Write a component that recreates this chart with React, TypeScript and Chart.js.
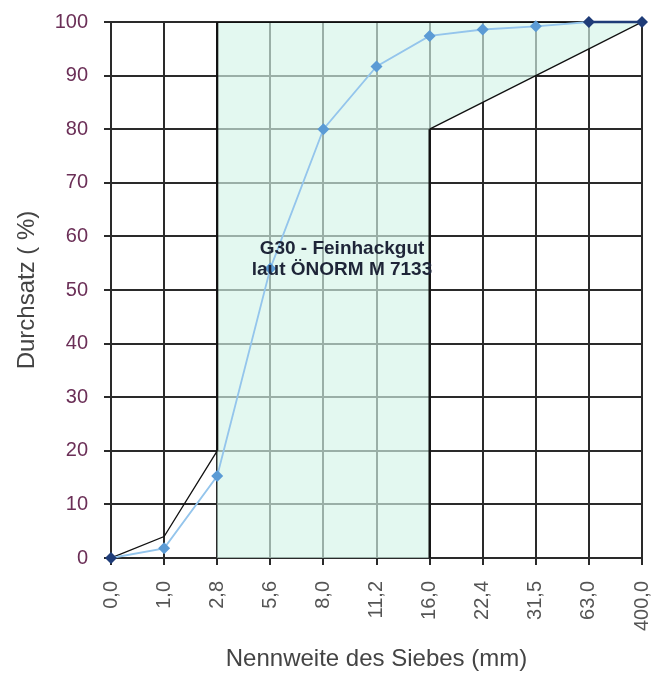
import React, { useEffect, useRef } from "react";
import { Chart, registerables } from "chart.js";

Chart.register(...registerables);

// ---- data ----
const sieveLabels = ["0,0", "1,0", "2,8", "5,6", "8,0", "11,2", "16,0", "22,4", "31,5", "63,0", "400,0"];
const passing = [0, 1.8, 15.3, 54, 80, 91.7, 97.4, 98.6, 99.2, 100, 100];
const darkPointIdx = [0, 9, 10];
// envelope (class limits) given as sieve index / percentage
const upperLimitIdx = [0, 1, 2, 2, 10];
const upperLimit = [0, 4, 20, 100, 100];
const lowerLimitIdx = [6, 6, 7, 8, 9, 10];
const lowerLimit = [0, 80, 85, 90, 95, 100];
const classTitle = ["G30 - Feinhackgut", "laut ÖNORM M 7133"];
const classTitleAnchor = { x: 4.35, y: 55.7 };

const FONT = '"Liberation Sans", Arial, sans-serif';
const GRID = "#2a2a2a";
const LIGHT_BLUE = "#94c5ec";
const MARKER_BLUE = "#5b9bd5";
const DARK_BLUE = "#1f3c78";

const classLabelPlugin = {
  id: "classLabel",
  afterDatasetsDraw(chart: any) {
    const { ctx, scales } = chart;
    const cx = scales.x.getPixelForValue(classTitleAnchor.x);
    const cy = scales.y.getPixelForValue(classTitleAnchor.y);
    ctx.save();
    ctx.font = `bold 19px ${FONT}`;
    ctx.fillStyle = "#1e2538";
    ctx.textAlign = "center";
    ctx.textBaseline = "middle";
    const n = classTitle.length;
    classTitle.forEach((t, i) => {
      ctx.fillText(t, cx, cy + (i - (n - 1) / 2) * 21);
    });
    ctx.restore();
  },
};

export default function App() {
  const ref = useRef<HTMLCanvasElement | null>(null);

  useEffect(() => {
    if (!ref.current) return;

    const upperPts = upperLimitIdx.map((x, i) => ({ x, y: upperLimit[i] }));
    const lowerPts = lowerLimitIdx.map((x, i) => ({ x, y: lowerLimit[i] }));
    // shaded region: from the first vertical of the upper limit to the lower limit
    const startIdx = upperLimitIdx[2];
    const polygon = [
      { x: startIdx, y: 0 },
      ...upperPts.slice(2),
      ...lowerPts.slice().reverse(),
    ];
    const passPts = passing.map((y, x) => ({ x, y }));

    const segWidth = (ctx: any) =>
      Math.abs(ctx.p0.x - ctx.p1.x) < 0.5 || Math.abs(ctx.p0.y - ctx.p1.y) < 0.5 ? 2.2 : 1.3;
    const isDarkSeg = (ctx: any) =>
      darkPointIdx.includes(ctx.p0DataIndex) && darkPointIdx.includes(ctx.p1DataIndex);

    const chart = new Chart(ref.current, {
      type: "line",
      data: {
        datasets: [
          {
            label: "Bereich",
            data: polygon,
            fill: "shape",
            backgroundColor: "rgba(212, 245, 232, 0.66)",
            borderWidth: 0,
            pointRadius: 0,
            order: 10,
          },
          {
            label: "Obergrenze",
            data: upperPts,
            borderColor: "#111",
            borderWidth: 1.3,
            segment: { borderWidth: segWidth },
            pointRadius: 0,
            fill: false,
            order: 5,
          },
          {
            label: "Untergrenze",
            data: lowerPts,
            borderColor: "#111",
            borderWidth: 1.3,
            segment: { borderWidth: segWidth },
            pointRadius: 0,
            fill: false,
            order: 5,
          },
          {
            label: "Durchsatz",
            data: passPts,
            clip: false,
            borderColor: LIGHT_BLUE,
            borderWidth: 1.8,
            segment: {
              borderColor: (ctx: any) => (isDarkSeg(ctx) ? DARK_BLUE : LIGHT_BLUE),
              borderWidth: (ctx: any) => (isDarkSeg(ctx) ? 2.4 : 1.8),
            },
            pointStyle: "rectRot",
            pointRadius: 6,
            pointBackgroundColor: passing.map((_, i) => (darkPointIdx.includes(i) ? DARK_BLUE : MARKER_BLUE)),
            pointBorderColor: passing.map((_, i) => (darkPointIdx.includes(i) ? DARK_BLUE : MARKER_BLUE)),
            pointBorderWidth: 0,
            fill: false,
            order: 1,
          },
        ],
      },
      options: {
        responsive: false,
        animation: false,
        layout: { padding: { left: 0, right: 10, top: 22, bottom: 0 } },
        plugins: { legend: { display: false }, tooltip: { enabled: false } },
        scales: {
          x: {
            type: "linear",
            min: 0,
            max: sieveLabels.length - 1,
            afterFit: (s: any) => {
              s.height = 116;
              s.paddingLeft = 0;
              s.paddingRight = 0;
            },
            ticks: {
              stepSize: 1,
              autoSkip: false,
              maxRotation: 90,
              minRotation: 90,
              padding: 16,
              color: "#555",
              font: { family: FONT, size: 20 },
              callback: (v: any) => sieveLabels[v] ?? "",
            },
            grid: { color: GRID, lineWidth: 2, tickLength: 7 },
            border: { color: GRID, width: 2 },
            title: {
              display: true,
              text: "Nennweite des Siebes (mm)",
              color: "#444",
              font: { family: FONT, size: 24 },
              padding: { top: 0, bottom: 0 },
            },
          },
          y: {
            min: 0,
            max: 100,
            afterFit: (s: any) => {
              s.width = 111;
              s.paddingTop = 0;
              s.paddingBottom = 0;
            },
            ticks: {
              stepSize: 10,
              padding: 16,
              color: "#6b2f57",
              font: { family: FONT, size: 20 },
            },
            grid: { color: GRID, lineWidth: 2, tickLength: 7 },
            border: { color: GRID, width: 2 },
            title: {
              display: true,
              text: "Durchsatz ( %)",
              color: "#444",
              font: { family: FONT, size: 24 },
              padding: { top: 13, bottom: 0 },
            },
          },
        },
      },
      plugins: [classLabelPlugin],
    } as any);

    return () => chart.destroy();
  }, []);

  return (
    <div style={{ position: "absolute", left: 0, top: 0, width: 652, height: 674, background: "#fff" }}>
      <canvas ref={ref} width={652} height={674} />
    </div>
  );
}
